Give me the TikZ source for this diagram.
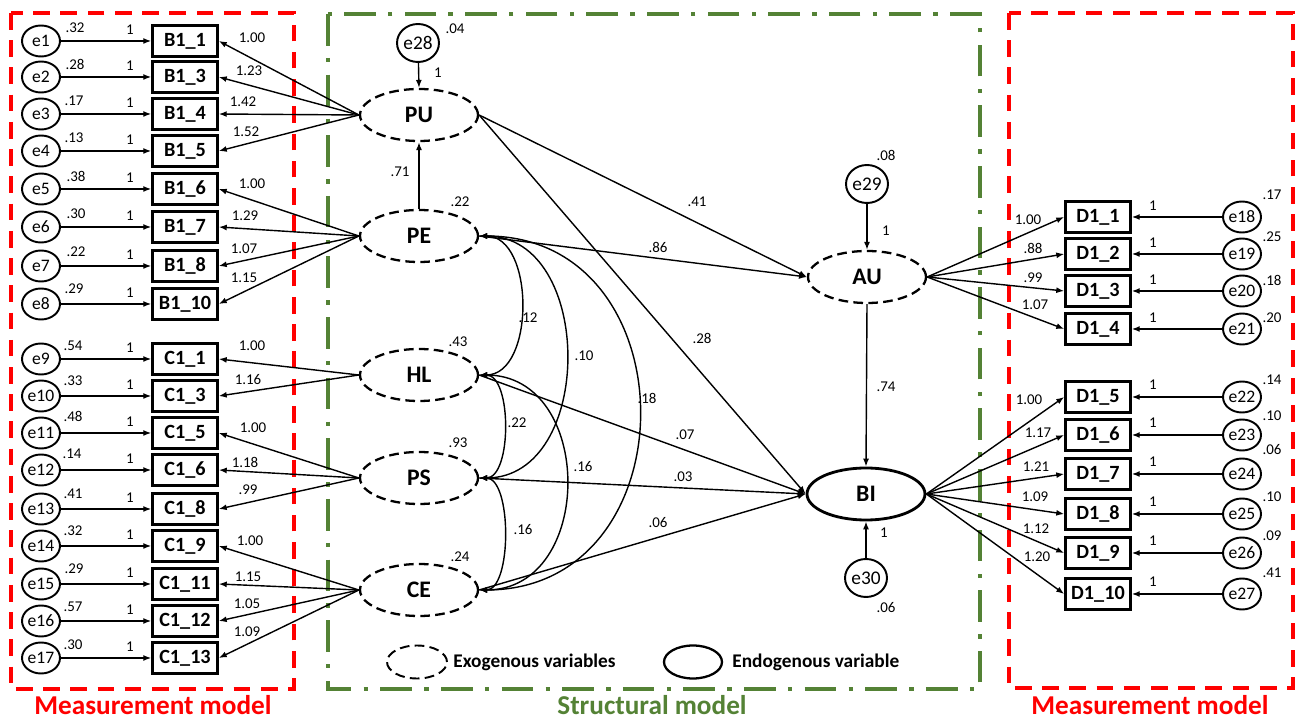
\documentclass[tikz,border=0pt]{standalone}
\usepackage{fontspec}
\setmainfont{Carlito}
\usetikzlibrary{shapes.geometric,arrows.meta}

\definecolor{mred}{RGB}{255,0,0}
\definecolor{mgreen}{RGB}{84,130,53}

\tikzset{
  err/.style={draw, ellipse, line width=1.1pt, minimum width=0.76cm, minimum height=0.62cm, inner sep=0pt, font=\fontsize{10}{11}\selectfont},
  errc/.style={err, minimum width=0.84cm, minimum height=0.76cm, font=\fontsize{11}{12}\selectfont},
  obs/.style={draw, rectangle, line width=1.5pt, minimum width=1.3cm, minimum height=0.62cm, inner sep=0pt, font=\bfseries\fontsize{11.5}{12}\selectfont},
  lat/.style={draw, ellipse, line width=1.3pt, dash pattern=on 5.5pt off 3pt, minimum width=2.36cm, minimum height=1.04cm, inner sep=0pt, font=\bfseries\fontsize{13.5}{14}\selectfont},
  endo/.style={lat, solid, line width=1.6pt},
  num/.style={inner sep=0pt, font=\fontsize{8.5}{9}\selectfont},
  path/.style={->, line width=0.8pt},
  cov/.style={<->, line width=0.8pt},
  redframe/.style={mred, line width=2pt, dash pattern=on 9.5pt off 6pt},
  greenframe/.style={mgreen, line width=2pt, dash pattern=on 18pt off 7pt on 2.5pt off 7pt},
  title/.style={inner sep=0pt, font=\bfseries\fontsize{15.5}{17}\selectfont},
  legtext/.style={anchor=west, inner sep=0pt, font=\bfseries\fontsize{11}{12}\selectfont}
}

\begin{document}
\begin{tikzpicture}[x=0.02cm, y=-0.02cm, >={Latex[length=4.5pt,width=3.4pt]}]
  \useasboundingbox (0,0) rectangle (1296,722);

  % Frames and titles
  \draw[redframe] (11,13) rectangle (294,689);
  \draw[greenframe] (328,14) rectangle (980,689);
  \draw[redframe] (1009,13) rectangle (1293,688);
  \node[title, mred] (t1) at (153,705) {Measurement model};
  \node[title, mgreen] (t2) at (652,705) {Structural model};
  \node[title, mred] (t3) at (1150,705) {Measurement model};

  % Latent variables
  \node[lat] (PU) at (419,115) {PU};
  \node[lat] (PE) at (419,236) {PE};
  \node[lat] (HL) at (419,375) {HL};
  \node[lat] (PS) at (419,478) {PS};
  \node[lat] (CE) at (419,590) {CE};
  \node[lat] (AU) at (867,277) {AU};
  \node[endo] (BI) at (866,494) {BI};

  % Left rows: B1
  \node[err] (e1) at (41,41) {e1}; \node[obs] (B11) at (185,41) {B1\_1};
  \draw[path] (e1) -- (B11); \draw[path] (PU.west) -- (B11.east);
  \node[num] (v1) at (75,28) {.32}; \node[num] (w1) at (130,30) {1}; \node[num] (l1) at (252,38) {1.00};
  \node[err] (e2) at (41,77) {e2}; \node[obs] (B13) at (185,77) {B1\_3};
  \draw[path] (e2) -- (B13); \draw[path] (PU.west) -- (B13.east);
  \node[num] (v2) at (75,64) {.28}; \node[num] (w2) at (130,66) {1}; \node[num] (l2) at (249,71) {1.23};
  \node[err] (e3) at (41,114) {e3}; \node[obs] (B14) at (185,114) {B1\_4};
  \draw[path] (e3) -- (B14); \draw[path] (PU.west) -- (B14.east);
  \node[num] (v3) at (74,101) {.17}; \node[num] (w3) at (130,103) {1}; \node[num] (l3) at (243,102) {1.42};
  \node[err] (e4) at (41,151) {e4}; \node[obs] (B15) at (185,151) {B1\_5};
  \draw[path] (e4) -- (B15); \draw[path] (PU.west) -- (B15.east);
  \node[num] (v4) at (74,138) {.13}; \node[num] (w4) at (130,140) {1}; \node[num] (l4) at (246,132) {1.52};
  \node[err] (e5) at (41,189) {e5}; \node[obs] (B16) at (185,189) {B1\_6};
  \draw[path] (e5) -- (B16); \draw[path] (PE.west) -- (B16.east);
  \node[num] (v5) at (76,176) {.38}; \node[num] (w5) at (130,178) {1}; \node[num] (l5) at (252,184) {1.00};
  \node[err] (e6) at (41,227) {e6}; \node[obs] (B17) at (185,227) {B1\_7};
  \draw[path] (e6) -- (B17); \draw[path] (PE.west) -- (B17.east);
  \node[num] (v6) at (76,214) {.30}; \node[num] (w6) at (130,216) {1}; \node[num] (l6) at (245,216) {1.29};
  \node[err] (e7) at (41,266) {e7}; \node[obs] (B18) at (185,266) {B1\_8};
  \draw[path] (e7) -- (B18); \draw[path] (PE.west) -- (B18.east);
  \node[num] (v7) at (76,252) {.22}; \node[num] (w7) at (130,255) {1}; \node[num] (l7) at (244,249) {1.07};
  \node[err] (e8) at (41,304) {e8}; \node[obs] (B110) at (185,304) {B1\_10};
  \draw[path] (e8) -- (B110); \draw[path] (PE.west) -- (B110.east);
  \node[num] (v8) at (74,289) {.29}; \node[num] (w8) at (130,293) {1}; \node[num] (l8) at (244,278) {1.15};

  % Left rows: C1
  \node[err] (e9) at (41,359) {e9}; \node[obs] (C11) at (185,359) {C1\_1};
  \draw[path] (e9) -- (C11); \draw[path] (HL.west) -- (C11.east);
  \node[num] (v9) at (73,346) {.54}; \node[num] (w9) at (130,348) {1}; \node[num] (l9) at (252,346) {1.00};
  \node[err] (e10) at (41,396) {e10}; \node[obs] (C13) at (185,396) {C1\_3};
  \draw[path] (e10) -- (C13); \draw[path] (HL.west) -- (C13.east);
  \node[num] (v10) at (73,381) {.33}; \node[num] (w10) at (130,385) {1}; \node[num] (l10) at (248,380) {1.16};
  \node[err] (e11) at (41,433) {e11}; \node[obs] (C15) at (185,433) {C1\_5};
  \draw[path] (e11) -- (C15); \draw[path] (PS.west) -- (C15.east);
  \node[num] (v11) at (73,416) {.48}; \node[num] (w11) at (130,422) {1}; \node[num] (l11) at (253,428) {1.00};
  \node[err] (e12) at (41,470) {e12}; \node[obs] (C16) at (185,470) {C1\_6};
  \draw[path] (e12) -- (C16); \draw[path] (PS.west) -- (C16.east);
  \node[num] (v12) at (72,454) {.14}; \node[num] (w12) at (130,459) {1}; \node[num] (l12) at (245,462) {1.18};
  \node[err] (e13) at (41,509) {e13}; \node[obs] (C18) at (185,509) {C1\_8};
  \draw[path] (e13) -- (C18); \draw[path] (PS.west) -- (C18.east);
  \node[num] (v13) at (73,494) {.41}; \node[num] (w13) at (130,498) {1}; \node[num] (l13) at (248,490) {.99};
  \node[err] (e14) at (41,546) {e14}; \node[obs] (C19) at (185,546) {C1\_9};
  \draw[path] (e14) -- (C19); \draw[path] (CE.west) -- (C19.east);
  \node[num] (v14) at (73,531) {.32}; \node[num] (w14) at (130,535) {1}; \node[num] (l14) at (250,541) {1.00};
  \node[err] (e15) at (41,584) {e15}; \node[obs] (C111) at (185,584) {C1\_11};
  \draw[path] (e15) -- (C111); \draw[path] (CE.west) -- (C111.east);
  \node[num] (v15) at (74,569) {.29}; \node[num] (w15) at (130,573) {1}; \node[num] (l15) at (248,577) {1.15};
  \node[err] (e16) at (41,621) {e16}; \node[obs] (C112) at (185,621) {C1\_12};
  \draw[path] (e16) -- (C112); \draw[path] (CE.west) -- (C112.east);
  \node[num] (v16) at (73,607) {.57}; \node[num] (w16) at (130,610) {1}; \node[num] (l16) at (247,604) {1.05};
  \node[err] (e17) at (41,658) {e17}; \node[obs] (C113) at (185,658) {C1\_13};
  \draw[path] (e17) -- (C113); \draw[path] (CE.west) -- (C113.east);
  \node[num] (v17) at (73,645) {.30}; \node[num] (w17) at (130,647) {1}; \node[num] (l17) at (247,632) {1.09};

  % Right rows: AU
  \node[err] (e18) at (1242,217) {e18}; \node[obs] (D11) at (1098,217) {D1\_1};
  \draw[path] (e18) -- (D11); \draw[path] (AU.east) -- (D11.west);
  \node[num] (v18) at (1272,195) {.17}; \node[num] (w18) at (1153,206) {1}; \node[num] (l18) at (1028,220) {1.00};
  \node[err] (e19) at (1242,254) {e19}; \node[obs] (D12) at (1098,254) {D1\_2};
  \draw[path] (e19) -- (D12); \draw[path] (AU.east) -- (D12.west);
  \node[num] (v19) at (1272,237) {.25}; \node[num] (w19) at (1153,243) {1}; \node[num] (l19) at (1033,248) {.88};
  \node[err] (e20) at (1242,291) {e20}; \node[obs] (D13) at (1098,291) {D1\_3};
  \draw[path] (e20) -- (D13); \draw[path] (AU.east) -- (D13.west);
  \node[num] (v20) at (1272,280) {.18}; \node[num] (w20) at (1153,280) {1}; \node[num] (l20) at (1033,278) {.99};
  \node[err] (e21) at (1242,329) {e21}; \node[obs] (D14) at (1098,329) {D1\_4};
  \draw[path] (e21) -- (D14); \draw[path] (AU.east) -- (D14.west);
  \node[num] (v21) at (1272,318) {.20}; \node[num] (w21) at (1153,318) {1}; \node[num] (l21) at (1035,305) {1.07};

  % Right rows: BI
  \node[err] (e22) at (1242,397) {e22}; \node[obs] (D15) at (1098,397) {D1\_5};
  \draw[path] (e22) -- (D15); \draw[path] (BI.east) -- (D15.west);
  \node[num] (v22) at (1272,380) {.14}; \node[num] (w22) at (1153,385) {1}; \node[num] (l22) at (1029,400) {1.00};
  \node[err] (e23) at (1242,435) {e23}; \node[obs] (D16) at (1098,435) {D1\_6};
  \draw[path] (e23) -- (D16); \draw[path] (BI.east) -- (D16.west);
  \node[num] (v23) at (1272,416) {.10}; \node[num] (w23) at (1153,423) {1}; \node[num] (l23) at (1038,433) {1.17};
  \node[err] (e24) at (1242,474) {e24}; \node[obs] (D17) at (1098,474) {D1\_7};
  \draw[path] (e24) -- (D17); \draw[path] (BI.east) -- (D17.west);
  \node[num] (v24) at (1272,450) {.06}; \node[num] (w24) at (1153,462) {1}; \node[num] (l24) at (1036,467) {1.21};
  \node[err] (e25) at (1242,514) {e25}; \node[obs] (D18) at (1098,514) {D1\_8};
  \draw[path] (e25) -- (D18); \draw[path] (BI.east) -- (D18.west);
  \node[num] (v25) at (1272,497) {.10}; \node[num] (w25) at (1153,502) {1}; \node[num] (l25) at (1035,497) {1.09};
  \node[err] (e26) at (1242,553) {e26}; \node[obs] (D19) at (1098,553) {D1\_9};
  \draw[path] (e26) -- (D19); \draw[path] (BI.east) -- (D19.west);
  \node[num] (v26) at (1272,536) {.09}; \node[num] (w26) at (1153,541) {1}; \node[num] (l26) at (1036,529) {1.12};
  \node[err] (e27) at (1242,594) {e27}; \node[obs] (D110) at (1098,594) {D1\_10};
  \draw[path] (e27) -- (D110); \draw[path] (BI.east) -- (D110.west);
  \node[num] (v27) at (1272,573) {.41}; \node[num] (w27) at (1153,582) {1}; \node[num] (l27) at (1037,557) {1.20};

  % Structural disturbances
  \node[errc] (e28) at (418,43) {e28}; \draw[path] (e28) -- (PU.north);
  \node[num] (v28) at (455,29) {.04}; \node[num] (w28) at (438,73) {1};
  \node[errc] (e29) at (867,184) {e29}; \draw[path] (e29) -- (AU.north);
  \node[num] (v29) at (886,155) {.08}; \node[num] (w29) at (886,231) {1};
  \node[errc] (e30) at (866,578) {e30}; \draw[path] (e30) -- (BI.south);
  \node[num] (v30) at (886,608) {.06}; \node[num] (w30) at (884,533) {1};

  % Structural paths
  \draw[path] (PE.north) -- (PU.south); \node[num] (p1) at (400,172) {.71};
  \draw[path] (PU.east) -- (AU.west); \node[num] (p2) at (697,202) {.41};
  \draw[path] (PU.east) -- (BI.west); \node[num] (p3) at (702,338) {.28};
  \draw[path] (PE.east) -- (AU.west); \node[num] (p4) at (658,247) {.86};
  \draw[path] (HL.east) -- (BI.west); \node[num] (p5) at (685,435) {.07};
  \draw[path] (PS.east) -- (BI.west); \node[num] (p6) at (683,477) {.03};
  \draw[path] (CE.east) -- (BI.west); \node[num] (p7) at (658,523) {.06};
  \draw[path] (AU.south) -- (BI.north); \node[num] (p8) at (886,387) {.74};

  % Covariances
  \draw[cov] (PE.east) .. controls +(56,0) and +(56,0) .. (HL.east); \node[num] (c1) at (528,318) {.12};
  \draw[cov] (PE.east) .. controls +(116,0) and +(116,0) .. (PS.east); \node[num] (c2) at (584,356) {.10};
  \draw[cov] (PE.east) .. controls +(213,0) and +(213,0) .. (CE.east); \node[num] (c3) at (647,398) {.18};
  \draw[cov] (HL.east) .. controls +(33,0) and +(33,0) .. (PS.east); \node[num] (c4) at (517,423) {.22};
  \draw[cov] (HL.east) .. controls +(116,0) and +(116,0) .. (CE.east); \node[num] (c5) at (583,467) {.16};
  \draw[cov] (PS.east) .. controls +(33,0) and +(33,0) .. (CE.east); \node[num] (c6) at (523,530) {.16};

  % Variances of latent variables
  \node[num] (r1) at (460,202) {.22}; \node[num] (r2) at (458,342) {.43};
  \node[num] (r3) at (458,443) {.93}; \node[num] (r4) at (460,557) {.24};

  % Legend
  \node[lat, minimum width=1.2cm, minimum height=0.66cm, line width=1.1pt] (lg1) at (417,662) {};
  \node[legtext] (lt1) at (453,662) {Exogenous variables};
  \node[endo, minimum width=1.16cm, minimum height=0.66cm, line width=1.3pt] (lg2) at (693,662) {};
  \node[legtext] (lt2) at (732,662) {Endogenous variable};
\end{tikzpicture}
\end{document}
